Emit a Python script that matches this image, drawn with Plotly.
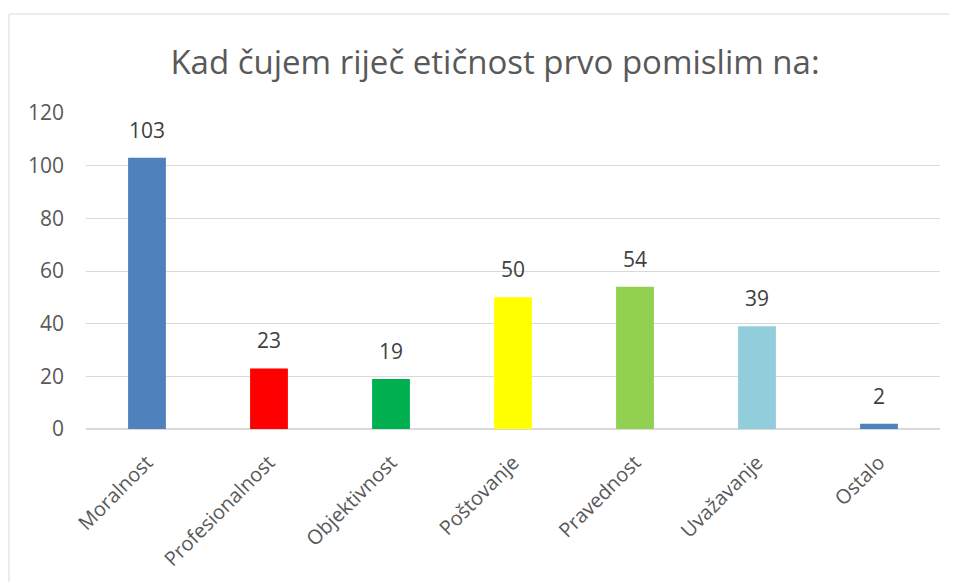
import plotly.graph_objects as go

categories = ["Moralnost", "Profesionalnost", "Objektivnost", "Poštovanje", "Pravednost", "Uvažavanje", "Ostalo"]
values = [103, 23, 19, 50, 54, 39, 2]
colors = ["#4F81BD", "#FF0000", "#00B050", "#FFFF00", "#92D050", "#92CDDC", "#4F81BD"]
title = "Kad čujem riječ etičnost prvo pomislim na:"
yticks = [0, 20, 40, 60, 80, 100, 120]

PW, PH = 957, 582  # page size
OFF = 8  # page offset of the plot div
W, H = PW - OFF, PH - OFF
L, R, T, B = 86 - OFF, 17, 113 - OFF, 153
pw, ph = W - L - R, H - T - B

fig = go.Figure(go.Bar(
    x=categories, y=values, marker=dict(color=colors, line=dict(width=0)),
    width=0.31, cliponaxis=False,
))

for c, v in zip(categories, values):
    fig.add_annotation(x=c, y=v, text=str(v), showarrow=False, yanchor="bottom",
                       yshift=12, font=dict(size=21, color="#404040", family="Open Sans"))

fig.update_layout(
    width=W, height=H,
    margin=dict(l=L, r=R, t=T, b=B),
    paper_bgcolor="white", plot_bgcolor="white",
    showlegend=False,
    font=dict(family="Open Sans", color="#595959"),
    title=dict(text=title, x=(495 - OFF) / W, xanchor="center", y=1 - (62 - OFF) / H, yanchor="middle",
               font=dict(size=33, color="#595959", family="Open Sans")),
    xaxis=dict(tickangle=-45, tickfont=dict(size=20, color="#595959"), showgrid=False,
               ticks="", showline=False, automargin=False, ticklabelstandoff=17),
    yaxis=dict(range=[0, 120], tickvals=yticks, tickfont=dict(size=21, color="#595959"),
               showgrid=True, gridcolor="#D9D9D9", gridwidth=1, zeroline=True,
               zerolinecolor="#D9D9D9", zerolinewidth=2, ticks="", ticklabelstandoff=21,
               showline=False, automargin=False),
    shapes=[dict(type="rect", xref="paper", yref="paper",
                 x0=(9 - OFF - L) / pw, x1=(W + 20 - L) / pw,
                 y0=-(H + 20 - (H - B)) / ph, y1=(H - B - (14 - OFF)) / ph,
                 line=dict(color="#D9D9D9", width=1), fillcolor="rgba(0,0,0,0)", layer="below")],
)

fig.write_html("out.html")
